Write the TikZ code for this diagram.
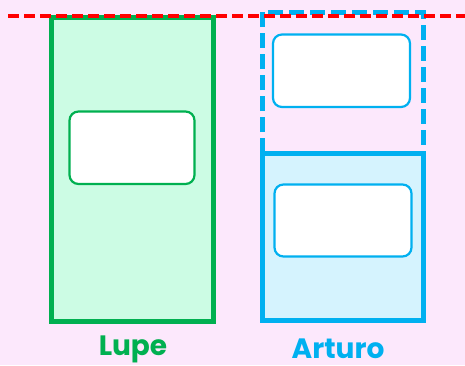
\documentclass[tikz,border=0pt]{standalone}
\usepackage{fontspec}
\setmainfont{Poppins}
\usepackage{xcolor}
\usepackage{tikz}
\usetikzlibrary{positioning}

\definecolor{bgpink}{HTML}{FCE8FC}
\definecolor{lupegreen}{HTML}{00B050}
\definecolor{lupefill}{HTML}{CCFCE4}
\definecolor{arturoblue}{HTML}{00B0F0}
\definecolor{arturofill}{HTML}{D5F3FE}

\tikzset{
    bar/.style={line width=5pt},
    card/.style={fill=white, rounded corners=9pt, line width=2.2pt},
    personlabel/.style={font=\fontsize{28}{30}\selectfont\bfseries, anchor=base, inner sep=0pt}
}

\begin{document}
\begin{tikzpicture}[x=1pt,y=-1pt]
        \fill[bgpink] (0,0) rectangle (465,365);
        \useasboundingbox (0,0) rectangle (465,365);
        % Lupe
        \draw[bar, draw=lupegreen, fill=lupefill] (51.5,17) rectangle (213.5,321);
        \draw[card, draw=lupegreen] (69.5,111.5) rectangle (194.5,184);
        \node[personlabel, text=lupegreen] (lupe) at (133,355) {Lupe};
        % Arturo
        \draw[bar, draw=arturoblue, fill=arturofill] (262,153) rectangle (423,320);
        \draw[bar, arturoblue, dash pattern=on 15pt off 6pt] (262,153) -- (262,12) -- (423,12) -- (423,153);
        \draw[card, draw=arturoblue] (273,34.5) rectangle (410,107);
        \draw[card, draw=arturoblue] (274.5,184.5) rectangle (411.5,256.5);
        \node[personlabel, text=arturoblue] (arturo) at (338,358.5) {Arturo};
        % top line
        \draw[red, line width=4pt, dash pattern=on 11pt off 5pt] (8,15.5) -- (465,15.5);
    \end{tikzpicture}
\end{document}
